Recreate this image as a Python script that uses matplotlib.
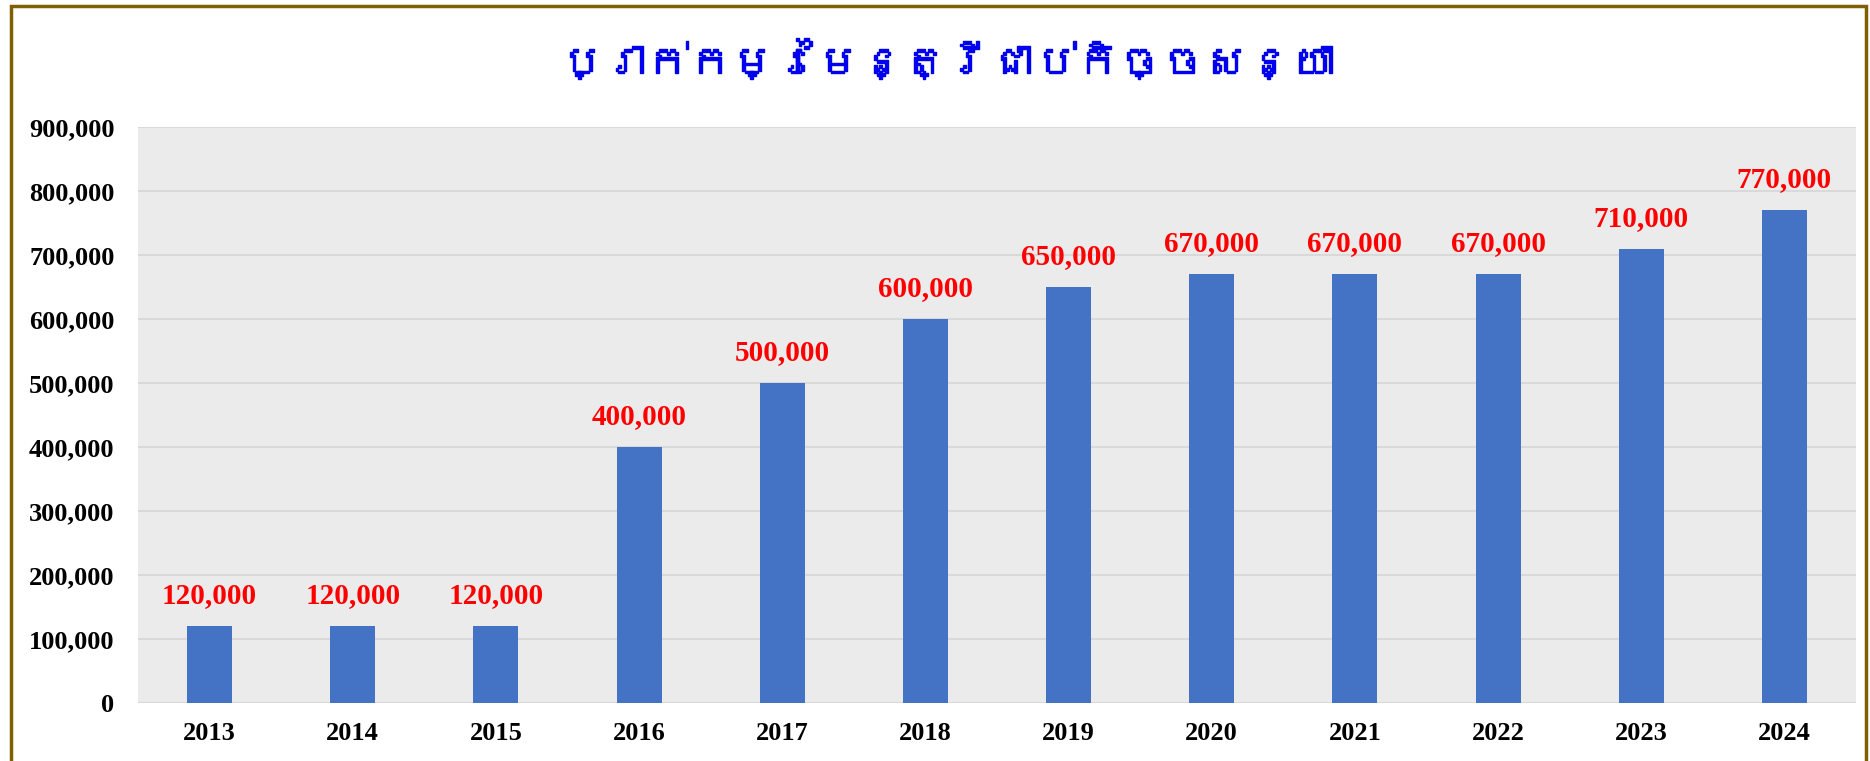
import numpy as np
import matplotlib
matplotlib.use("Agg")
import matplotlib.pyplot as plt
import matplotlib.patheffects as pe
from matplotlib import font_manager
from matplotlib.ft2font import FT2Font
from matplotlib.patches import Rectangle
from matplotlib.ticker import FuncFormatter

# data
years = ["2013", "2014", "2015", "2016", "2017", "2018",
         "2019", "2020", "2021", "2022", "2023", "2024"]
salary = [120000, 120000, 120000, 400000, 500000, 600000,
          650000, 670000, 670000, 670000, 710000, 770000]
title = "ប្រាក់កម្រៃមន្ត្រីជាប់កិច្ចសន្យា"


def find_khmer_font():
    # look for any installed font that has Khmer glyphs
    for f in font_manager.fontManager.ttflist:
        try:
            ft = FT2Font(f.fname)
            if ft.get_char_index(0x1794) and ft.get_char_index(0x17D2):
                return f.name
        except Exception:
            pass
    return None


khmer = find_khmer_font()
title_fonts = [khmer, "DejaVu Sans"] if khmer else ["DejaVu Sans"]

serif = "Liberation Serif"
bar_color = "#4472C4"
label_color = "#FF0000"
title_color = "#0000EE"

fig = plt.figure(figsize=(18.7, 7.61), dpi=100)
ax = fig.add_axes([0.0738, 0.0762, 0.9187, 0.7569])
ax.set_facecolor("#EBEBEB")

x = np.arange(len(years))
bars = ax.bar(x, salary, width=0.315, color=bar_color, zorder=3)
ax.bar_label(bars, labels=[f"{v:,}" for v in salary], padding=12,
             color=label_color, fontsize=21, fontweight="bold", family=serif)

ax.set_xlim(-0.5, len(years) - 0.5)
ax.set_ylim(0, 900000)
ax.set_yticks(np.arange(0, 900001, 100000))
ax.yaxis.set_major_formatter(FuncFormatter(lambda v, p: f"{int(v):,}"))
ax.set_xticks(x)
ax.set_xticklabels(years)
for lab in ax.get_xticklabels() + ax.get_yticklabels():
    lab.set_fontfamily(serif)
    lab.set_fontweight("bold")
    lab.set_fontsize(19)
ax.tick_params(axis="y", length=0, pad=17)
ax.tick_params(axis="x", length=0, pad=14)

ax.grid(axis="y", color="#D9D9D9", linewidth=1.5, zorder=0)
ax.set_axisbelow(True)
for s in ax.spines.values():
    s.set_visible(False)

# title drawn a bit heavier with a thin stroke, the khmer font has no bold face
fig.text(0.506, 0.92, title, ha="center", va="center", fontsize=31,
         fontweight="bold", color=title_color, family=title_fonts,
         path_effects=[pe.withStroke(linewidth=1.0, foreground=title_color)])

# outer frame
fig.patches.append(Rectangle((11 / 1870, -0.02), 1855 / 1870, 1 - 6 / 761 + 0.02,
                             transform=fig.transFigure, fill=False,
                             edgecolor="#7F6000", linewidth=2.5))

fig.savefig("out.png", dpi=100)
